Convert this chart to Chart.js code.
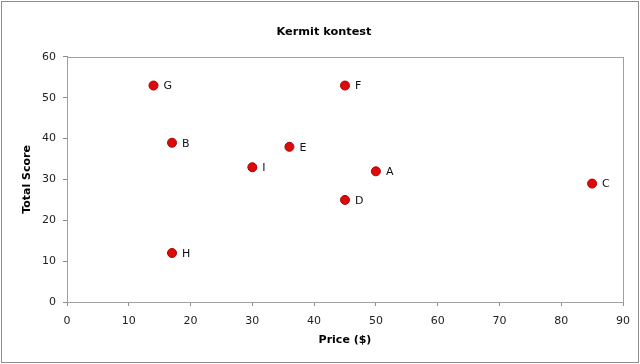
<!DOCTYPE html>
<html>
<head>
<meta charset="utf-8">
<script src="https://cdn.jsdelivr.net/npm/chart.js@4"></script>
<style>
  body { margin: 0; background: #fff; }
  canvas { display: block; }
</style>
</head>
<body>
<canvas id="canvas" width="640" height="364"></canvas>
<script>
const names = ['A', 'B', 'C', 'D', 'E', 'F', 'G', 'H', 'I'];
const prices = [50, 17, 85, 45, 36, 45, 14, 17, 30];
const scores = [32, 39, 29, 25, 38, 53, 53, 12, 33];

const canvas = document.getElementById('canvas');
const ctx = canvas.getContext('2d');

const points = names.map((n, i) => ({ x: prices[i], y: scores[i], name: n }));

// white background, outer frame and plot box
const frame = {
  id: 'frame',
  beforeDraw(chart) {
    const c = chart.ctx;
    c.save();
    c.fillStyle = '#fff';
    c.fillRect(0, 0, chart.width, chart.height);
    c.restore();
  },
  afterDraw(chart) {
    const c = chart.ctx;
    const a = chart.chartArea;
    c.save();
    c.strokeStyle = '#8c8c8c';
    c.lineWidth = 1;
    c.strokeRect(1.5, 1.5, chart.width - 3, chart.height - 3);
    c.strokeStyle = '#a0a0a0';
    c.strokeRect(Math.round(a.left) + 0.5, Math.round(a.top) + 0.5,
      Math.round(a.right - a.left), Math.round(a.bottom - a.top));
    c.restore();
  }
};

// letter next to each point
const pointNames = {
  id: 'pointNames',
  afterDatasetsDraw(chart) {
    const c = chart.ctx;
    const meta = chart.getDatasetMeta(0);
    c.save();
    c.font = '11px "DejaVu Sans"';
    c.fillStyle = '#111';
    c.textBaseline = 'middle';
    meta.data.forEach((el, i) => {
      c.fillText(points[i].name, el.x + 10, el.y + 1);
    });
    c.restore();
  }
};

new Chart(ctx, {
  type: 'scatter',
  data: {
    datasets: [{
      data: points,
      backgroundColor: '#dd0a0a',
      borderColor: '#b00000',
      borderWidth: 1,
      pointRadius: 4.5
    }]
  },
  options: {
    responsive: false,
    animation: false,
    layout: { padding: { left: 25, right: 17, top: 0, bottom: 0 } },
    plugins: {
      legend: { display: false },
      tooltip: { enabled: false },
      title: {
        display: true,
        text: 'Kermit kontest',
        color: '#000',
        font: { family: 'DejaVu Sans', size: 11.3, weight: 'bold' },
        padding: { top: 25, bottom: 18.4 }
      }
    },
    scales: {
      x: {
        type: 'linear',
        min: 0,
        max: 90,
        afterFit(scale) { scale.height = 62; },
        ticks: { stepSize: 10, color: '#222', padding: 9, font: { family: 'DejaVu Sans', size: 11 } },
        grid: { drawOnChartArea: false, color: '#8c8c8c', tickLength: 4 },
        border: { color: '#8c8c8c' },
        title: {
          display: true,
          text: 'Price ($)',
          color: '#000',
          font: { family: 'DejaVu Sans', size: 11, weight: 'bold' },
          padding: { top: 0, bottom: 17.4 }
        }
      },
      y: {
        min: 0,
        max: 60,
        afterFit(scale) { scale.width = 42; },
        ticks: { stepSize: 10, color: '#222', padding: 7, font: { family: 'DejaVu Sans', size: 11 } },
        grid: { drawOnChartArea: false, color: '#8c8c8c', tickLength: 4 },
        border: { color: '#8c8c8c' },
        title: {
          display: true,
          text: 'Total Score',
          color: '#000',
          font: { family: 'DejaVu Sans', size: 11, weight: 'bold' },
          padding: { top: -4.6, bottom: 0 }
        }
      }
    }
  },
  plugins: [frame, pointNames]
});
</script>
</body>
</html>
